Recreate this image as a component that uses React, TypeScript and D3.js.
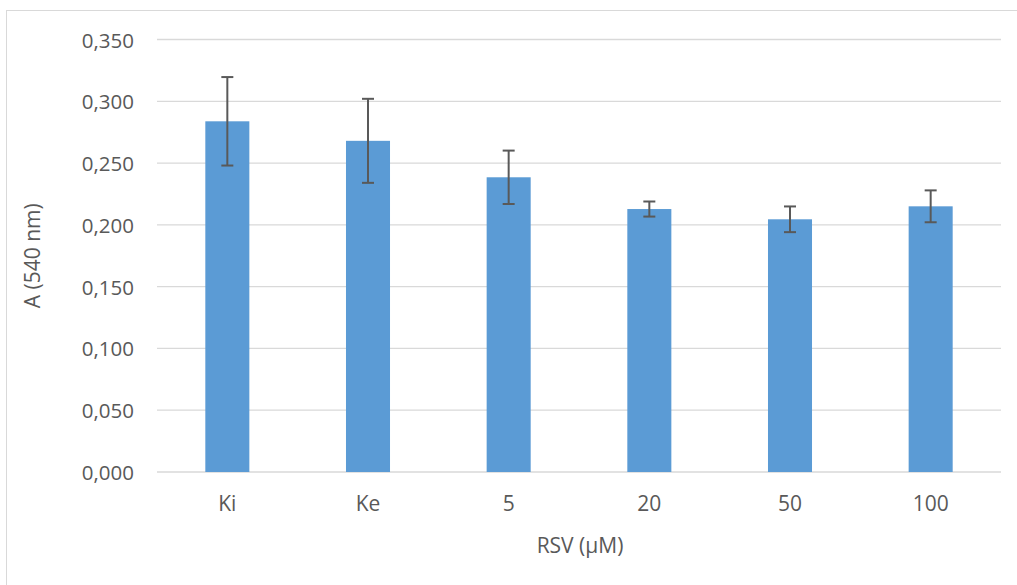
import React from "react";
import * as d3 from "d3";

const categories = ["Ki", "Ke", "5", "20", "50", "100"];
const means = [0.2838, 0.268, 0.2385, 0.2128, 0.2045, 0.2150];
const errors = [0.0358, 0.034, 0.0216, 0.0061, 0.0104, 0.0129];
const yTicks = [0, 0.05, 0.1, 0.15, 0.2, 0.25, 0.3, 0.35];
const yTitle = "A (540 nm)";
const xTitle = "RSV (µM)";

const W = 1017;
const H = 585;
const left = 157;
const right = 1001;
const top = 39.5;
const bottom = 472;

export default function App() {
  const x = d3
    .scaleBand<string>()
    .domain(categories)
    .range([left, right])
    .paddingInner(0.687)
    .paddingOuter(0.3435);
  const y = d3.scaleLinear().domain([0, 0.35]).range([bottom, top]);
  const fmt = (v: number) => d3.format(".3f")(v).replace(".", ",");
  const font = "'Open Sans', sans-serif";
  const txt = "#595959";
  const cap = 6;

  return (
    <div style={{ position: "absolute", left: 0, top: 0 }}>
      <svg width={W} height={H} style={{ display: "block" }}>
        <rect x={0} y={0} width={W} height={H} fill="#fff" />
        <rect x={6.5} y={10.5} width={1200} height={800} fill="none" stroke="#d9d9d9" strokeWidth={1} />
        {yTicks.map((t) => (
          <g key={t}>
            <line x1={left} x2={right} y1={y(t)} y2={y(t)} stroke="#d9d9d9" strokeWidth={1.3} />
            <text
              x={134}
              y={y(t)}
              textAnchor="end"
              dominantBaseline="central"
              fontFamily={font}
              fontSize={20.5}
              fill={txt}
            >
              {fmt(t)}
            </text>
          </g>
        ))}
        {categories.map((c, i) => {
          const bx = x(c)!;
          const cx = bx + x.bandwidth() / 2;
          return (
            <g key={c}>
              <rect x={bx} y={y(means[i])} width={x.bandwidth()} height={y(0) - y(means[i])} fill="#5B9BD5" />
              <line x1={cx} x2={cx} y1={y(means[i] + errors[i])} y2={y(means[i] - errors[i])} stroke="#595959" strokeWidth={2} />
              <line x1={cx - cap} x2={cx + cap} y1={y(means[i] + errors[i])} y2={y(means[i] + errors[i])} stroke="#595959" strokeWidth={2} />
              <line x1={cx - cap} x2={cx + cap} y1={y(means[i] - errors[i])} y2={y(means[i] - errors[i])} stroke="#595959" strokeWidth={2} />
              <text x={cx} y={511} textAnchor="middle" fontFamily={font} fontSize={21} fill={txt}>
                {c}
              </text>
            </g>
          );
        })}
        <text x={580} y={553} textAnchor="middle" fontFamily={font} fontSize={21} fill={txt}>
          {xTitle}
        </text>
        <text
          transform={`translate(40, ${(top + bottom) / 2}) rotate(-90)`}
          textAnchor="middle"
          fontFamily={font}
          fontSize={21}
          fill={txt}
        >
          {yTitle}
        </text>
      </svg>
    </div>
  );
}
